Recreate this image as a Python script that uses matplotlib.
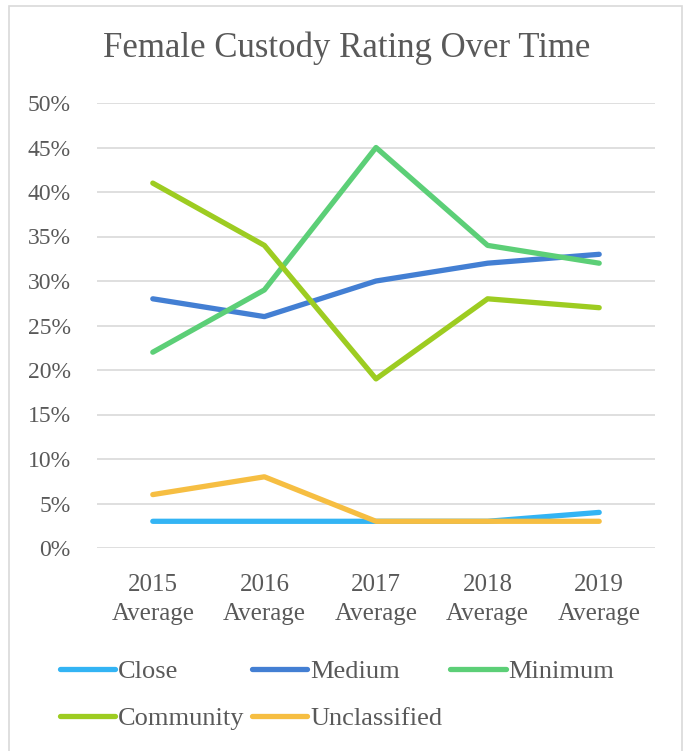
import matplotlib
matplotlib.use("Agg")
import matplotlib.pyplot as plt
from matplotlib.patches import Rectangle
from matplotlib.ticker import FuncFormatter

categories = ["2015\nAverage", "2016\nAverage", "2017\nAverage", "2018\nAverage", "2019\nAverage"]
close = [3, 3, 3, 3, 4]
medium = [28, 26, 30, 32, 33]
minimum = [22, 29, 45, 34, 32]
community = [41, 34, 19, 28, 27]
unclassified = [6, 8, 3, 3, 3]

series = [
    ("Close", close, "#33B4F4"),
    ("Medium", medium, "#437FD3"),
    ("Minimum", minimum, "#5CCF77"),
    ("Community", community, "#9DCC21"),
    ("Unclassified", unclassified, "#F6BE42"),
]

plt.rcParams['font.family'] = ['Liberation Serif', 'DejaVu Serif']
text_color = "#595959"

fig = plt.figure(figsize=(6.86, 7.51), dpi=100)
fig.patches.append(Rectangle((9/686, -0.01), (682-9)/686, (751-6)/751 + 0.01,
                             transform=fig.transFigure, fill=False,
                             edgecolor="#d9d9d9", linewidth=1.2))

ax = fig.add_axes([97/686, 203/751, (655-97)/686, (648-203)/751])
x = list(range(len(categories)))
handles = {}
for name, vals, col in series:
    ln, = ax.plot(x, vals, color=col, linewidth=3.8, solid_capstyle='round',
                  solid_joinstyle='round', label=name)
    handles[name] = ln

ax.set_xlim(-0.5, len(categories) - 0.5)
ax.set_ylim(0, 50)
ax.set_yticks(range(0, 51, 5))
ax.yaxis.set_major_formatter(FuncFormatter(lambda v, p: f"{int(v)}%"))
ax.set_xticks(x)
ax.set_xticklabels(categories, linespacing=1.4)
ax.grid(axis='y', color="#d9d9d9", linewidth=1.2)
ax.set_axisbelow(True)
for s in ax.spines.values():
    s.set_visible(False)
ax.tick_params(axis='x', length=0, labelsize=18, colors=text_color, pad=19)
ax.tick_params(axis='y', length=0, labelsize=17, colors=text_color, pad=19)

fig.text(347/686, 1 - 48/751, "Female Custody Rating Over Time", ha='center',
         va='center', fontsize=25, color=text_color)

order = ["Close", "Community", "Medium", "Unclassified", "Minimum"]
leg = fig.legend([handles[n] for n in order], order,
                 loc='upper left', bbox_to_anchor=(49/686, 1 - 649/751), ncol=3,
                 frameon=False, fontsize=19, handlelength=2.1, handletextpad=0.1,
                 columnspacing=0.3, labelcolor=text_color, borderaxespad=0,
                 labelspacing=0.9)

fig.savefig("out.png", dpi=100)
